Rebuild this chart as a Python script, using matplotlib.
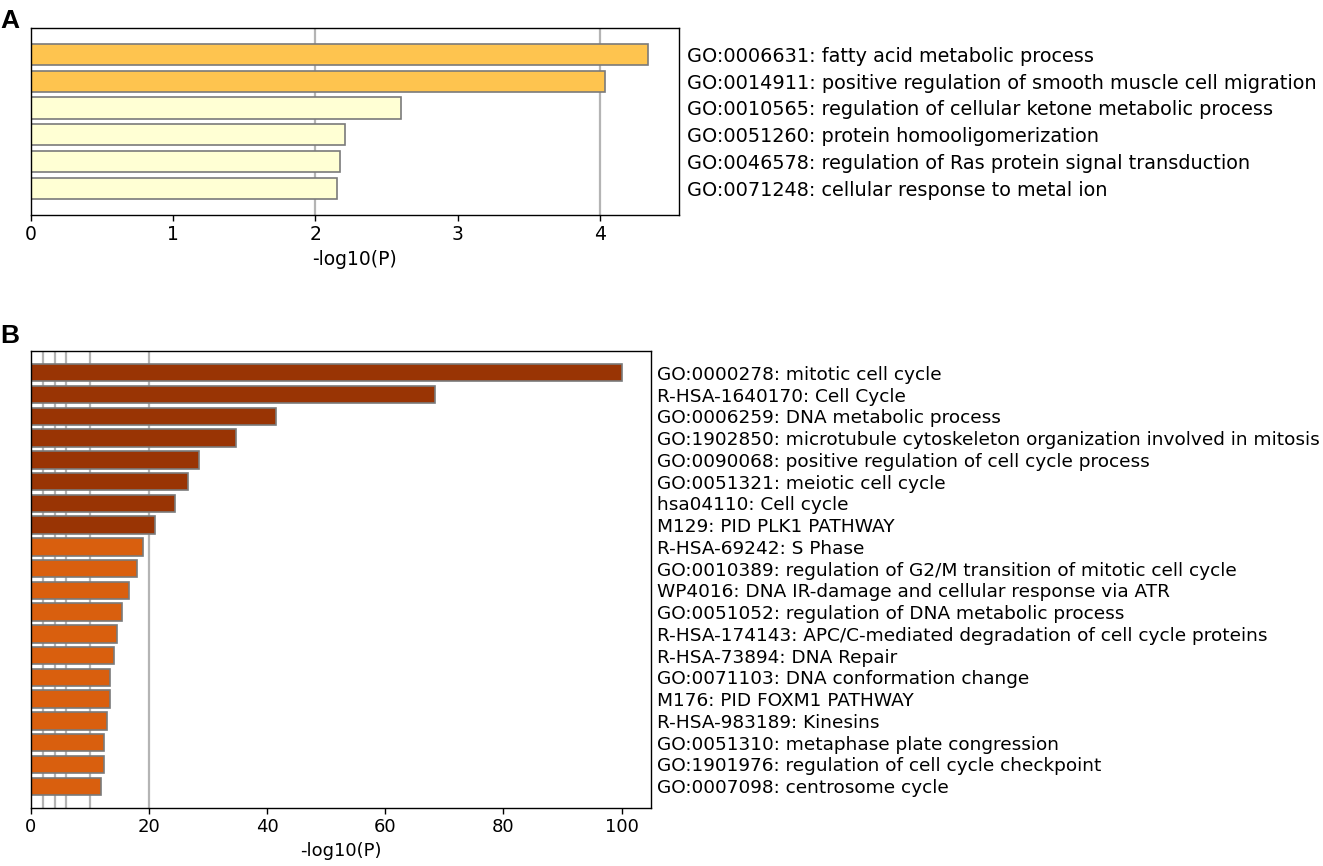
import matplotlib
matplotlib.use("Agg")
import matplotlib.pyplot as plt
import numpy as np

# panel A data
terms_a = [
    "GO:0006631: fatty acid metabolic process",
    "GO:0014911: positive regulation of smooth muscle cell migration",
    "GO:0010565: regulation of cellular ketone metabolic process",
    "GO:0051260: protein homooligomerization",
    "GO:0046578: regulation of Ras protein signal transduction",
    "GO:0071248: cellular response to metal ion",
]
logp_a = [4.34, 4.04, 2.605, 2.21, 2.175, 2.155]

# panel B data
terms_b = [
    "GO:0000278: mitotic cell cycle",
    "R-HSA-1640170: Cell Cycle",
    "GO:0006259: DNA metabolic process",
    "GO:1902850: microtubule cytoskeleton organization involved in mitosis",
    "GO:0090068: positive regulation of cell cycle process",
    "GO:0051321: meiotic cell cycle",
    "hsa04110: Cell cycle",
    "M129: PID PLK1 PATHWAY",
    "R-HSA-69242: S Phase",
    "GO:0010389: regulation of G2/M transition of mitotic cell cycle",
    "WP4016: DNA IR-damage and cellular response via ATR",
    "GO:0051052: regulation of DNA metabolic process",
    "R-HSA-174143: APC/C-mediated degradation of cell cycle proteins",
    "R-HSA-73894: DNA Repair",
    "GO:0071103: DNA conformation change",
    "M176: PID FOXM1 PATHWAY",
    "R-HSA-983189: Kinesins",
    "GO:0051310: metaphase plate congression",
    "GO:1901976: regulation of cell cycle checkpoint",
    "GO:0007098: centrosome cycle",
]
logp_b = [100.0, 68.4, 41.5, 34.7, 28.4, 26.6, 24.4, 21.0, 18.9, 18.0,
          16.6, 15.5, 14.6, 14.1, 13.4, 13.3, 12.8, 12.4, 12.4, 11.9]

grid_x = [2, 4, 6, 10, 20]


def bar_color(v):
    # YlOrBr-like bins used by Metascape
    if v >= 20:
        return "#993404"
    if v >= 10:
        return "#d95f0e"
    if v >= 6:
        return "#fe9929"
    if v >= 3:
        return "#fec44f"
    return "#ffffd4"


def draw_panel(ax, terms, vals, label_size, tick_size, pad):
    n = len(terms)
    y = np.arange(n)
    xmax = max(vals) * 1.05
    for g in grid_x:
        if g < xmax:
            ax.axvline(g, color="#b4b4b4", lw=1.6, zorder=0)
    ax.barh(y, vals, height=0.8, color=[bar_color(v) for v in vals],
            edgecolor="#7a7a7a", linewidth=1.2, zorder=2)
    ax.set_xlim(0, xmax)
    ax.set_ylim(n, -1)
    ax.yaxis.tick_right()
    ax.set_yticks(y)
    ax.set_yticklabels(terms, fontsize=label_size)
    ax.tick_params(axis="y", length=0, pad=pad)
    ax.tick_params(axis="x", labelsize=tick_size, length=4, width=1)
    ax.set_xlabel("-log10(P)", fontsize=tick_size, labelpad=4)
    for s in ax.spines.values():
        s.set_linewidth(1.0)


fig = plt.figure(figsize=(13.23, 8.66), dpi=100)
ax_a = fig.add_axes([0.0234, 0.7517, 0.4898, 0.2163])
ax_b = fig.add_axes([0.0234, 0.0670, 0.4687, 0.5277])

draw_panel(ax_a, terms_a, logp_a, 13.9, 13.5, 6)
draw_panel(ax_b, terms_b, logp_b, 13.3, 13, 4.5)
ax_b.set_xticks([0, 20, 40, 60, 80, 100])

fig.text(0.0, 0.99, "A", fontsize=19, fontweight="bold",
         family="Liberation Sans", va="top", ha="left")
fig.text(0.0, 0.626, "B", fontsize=19, fontweight="bold",
         family="Liberation Sans", va="top", ha="left")

fig.savefig("out.png", dpi=100)
